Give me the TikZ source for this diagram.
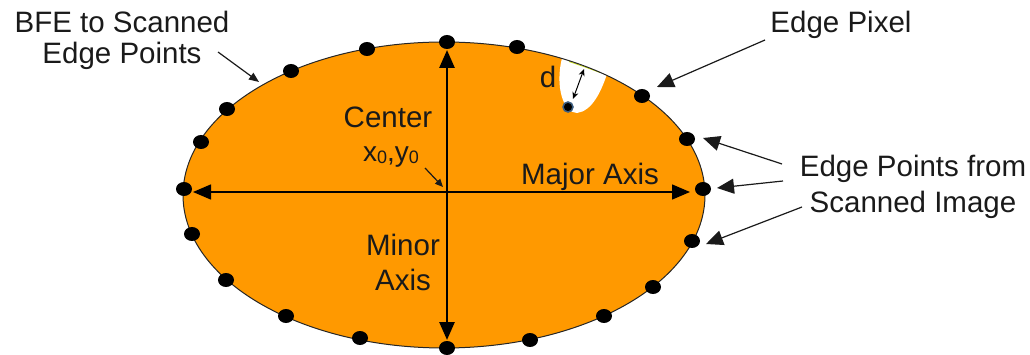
\documentclass[tikz,border=0pt]{standalone}
\usepackage{fontspec}
\setmainfont{Liberation Sans}
\usetikzlibrary{arrows.meta,shapes.geometric}
\definecolor{fillorange}{HTML}{FF9900}
\definecolor{txt}{HTML}{1A1A1A}
\definecolor{ring}{HTML}{3D5E80}
\newcommand{\zsub}{\raisebox{-1.5pt}{\fontsize{18}{18}\selectfont 0}}
\begin{document}
\begin{tikzpicture}[x=1pt,y=-1pt,
  dot/.style={ellipse,fill=black,inner sep=0pt,minimum width=16pt,minimum height=14pt},
  lbl/.style={text=txt,inner sep=0pt,font=\fontsize{29.5}{31}\selectfont},
  lead/.style={draw=txt,line width=1.2pt,-{Triangle[length=17pt,width=15pt]}},
  axisline/.style={draw=black,{Triangle[length=18pt,width=15pt]}-{Triangle[length=18pt,width=15pt]}}
]
\useasboundingbox (0,0) rectangle (1030,355);
% ellipse body
\fill[fillorange] (444,195) ellipse (261 and 153);
% white region around edge pixel
\fill[white] (562,58) .. controls (555,86) and (563,113) .. (577,113)
  .. controls (592,111) and (601,92) .. (607,74) -- (585,65.3) -- cycle;
\draw[yellow!80!green,line width=0.8pt] (569,61.5) -- (585,67) -- (600,72.5);
\draw[black!85,line width=1pt] (444,195) ellipse (261 and 153);
% edge points
\foreach \n/\x/\y in {1/447/42,2/517/47,3/642/96,4/687/139,5/703/189,6/692/241,
  7/653/287,8/604/316,9/530/340,10/447/348,11/360/338,12/286/316,13/226/280,
  14/192/234,15/184/189,16/201/142,17/227/109,18/291/71,19/367/49}
  \node[dot] (p\n) at (\x,\y) {};
% edge pixel
\node[circle,fill=black,draw=ring,line width=1.5pt,inner sep=0pt,minimum size=10pt] (px) at (568,107) {};
\coordinate (dA) at (584,69);
\coordinate (dB) at (573,99);
\draw[black,line width=1pt,{Stealth[length=7pt,width=6pt]}-{Stealth[length=7pt,width=6pt]}] (dA) -- (dB);
\node[lbl,anchor=base] (d) at (548,88) {d};
% axes
\coordinate (mjL) at (193,192);
\coordinate (mjR) at (690,192);
\draw[axisline,line width=1.5pt] (mjL) -- (mjR);
\coordinate (mnT) at (447,50);
\coordinate (mnB) at (447,340);
\draw[axisline,line width=2.8pt] (mnT) -- (mnB);
% center label
\node[lbl,anchor=base] (center) at (388,128) {Center};
\node[lbl,anchor=base,font=\fontsize{28}{30}\selectfont] (xy) at (391,162) {x\zsub,y\zsub};
\coordinate (cT) at (425,168);
\coordinate (cH) at (443,187);
\draw[draw=txt,line width=1.2pt,-{Triangle[length=8pt,width=7pt]}] (cT) -- (cH);
\node[lbl,anchor=base] (major) at (590,185) {Major Axis};
\node[lbl,anchor=north,align=center,font=\fontsize{29.5}{35}\selectfont] (minor) at (403,233.9) {Minor\\Axis};
% outer labels
\node[lbl,anchor=north,align=center] (bfe) at (122,10.9) {BFE to Scanned\\Edge Points};
\coordinate (bfeT) at (218,52);
\coordinate (bfeH) at (259,82);
\draw[draw=txt,line width=1.2pt,-{Triangle[length=10pt,width=8pt]}] (bfeT) -- (bfeH);
\node[lbl,anchor=base] (epx) at (841,33) {Edge Pixel};
\coordinate (epxT) at (765,40);
\coordinate (epxH) at (657,87);
\draw[lead] (epxT) -- (epxH);
\node[lbl,anchor=north,align=center,font=\fontsize{29.5}{36}\selectfont] (eps) at (913,154.9) {Edge Points from\\Scanned Image};
\coordinate (e1T) at (782,164);
\coordinate (e1H) at (703,138);
\coordinate (e2T) at (783,181);
\coordinate (e2H) at (717,188);
\coordinate (e3T) at (802,207);
\coordinate (e3H) at (706,244);
\draw[lead] (e1T) -- (e1H);
\draw[lead] (e2T) -- (e2H);
\draw[lead] (e3T) -- (e3H);
\end{tikzpicture}
\end{document}
